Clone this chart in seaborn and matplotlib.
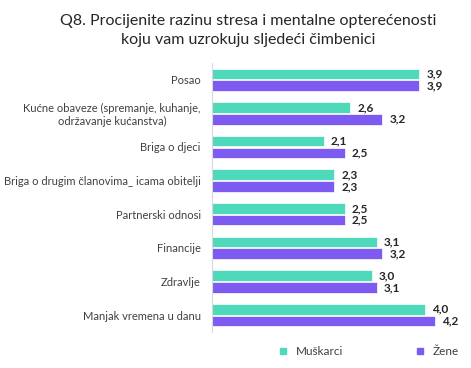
import pandas as pd
import seaborn as sns
import matplotlib.pyplot as plt
from matplotlib.lines import Line2D

categories = [
    "Posao",
    "Kućne obaveze (spremanje, kuhanje,\nodržavanje kućanstva)",
    "Briga o djeci",
    "Briga o drugim članovima_ icama obitelji",
    "Partnerski odnosi",
    "Financije",
    "Zdravlje",
    "Manjak vremena u danu",
]
muskarci = [3.9, 2.6, 2.1, 2.3, 2.5, 3.1, 3.0, 4.0]
zene = [3.9, 3.2, 2.5, 2.3, 2.5, 3.2, 3.1, 4.2]
series = ["Muškarci", "Žene"]
colors = ["#4DD9BA", "#7D5BF0"]

df = pd.DataFrame({
    "kategorija": categories * 2,
    "vrijednost": muskarci + zene,
    "spol": [series[0]] * len(categories) + [series[1]] * len(categories),
})

sns.set_style("white")
plt.rcParams["font.family"] = ["Lato", "DejaVu Sans"]

fig = plt.figure(figsize=(4.71, 3.68), dpi=100)
ax = fig.add_axes([0.450, 0.098, 0.531, 0.731])

sns.barplot(data=df, y="kategorija", x="vrijednost", hue="spol",
            palette=colors, saturation=1, orient="h", width=0.7, gap=0.1,
            edgecolor="white", linewidth=0.5, legend=False, ax=ax)

for cont in ax.containers:
    labels = [f"{v:.1f}".replace(".", ",") for v in cont.datavalues]
    ax.bar_label(cont, labels=labels, padding=5, fontsize=8.5,
                 fontweight="bold", color="#262626")

ax.set_xlim(0, 4.7)
ax.set_ylim(7.5, -0.5)
ax.set_xlabel("")
ax.set_ylabel("")
ax.set_xticks([])
ax.tick_params(axis="y", length=0, pad=8, labelsize=8, labelcolor="#404040")
for lab in ax.get_yticklabels():
    lab.set_multialignment("center")
for s in ["top", "right", "bottom"]:
    ax.spines[s].set_visible(False)
ax.spines["left"].set_color("#d9d9d9")
ax.spines["left"].set_linewidth(0.8)

fig.text(0.527, 0.918, "Q8. Procijenite razinu stresa i mentalne opterećenosti\nkoju vam uzrokuju sljedeći čimbenici",
         ha="center", va="center", fontsize=11.5, color="#262626", linespacing=1.45)

handles = [Line2D([], [], marker="s", linestyle="", markersize=4, color=c) for c in colors]
fig.legend(handles, series, loc="center", bbox_to_anchor=(0.775, 0.045), ncol=2,
           frameon=False, fontsize=8.5, labelcolor="#404040",
           handletextpad=0.1, columnspacing=5.5)

fig.savefig("out.png", dpi=100)
